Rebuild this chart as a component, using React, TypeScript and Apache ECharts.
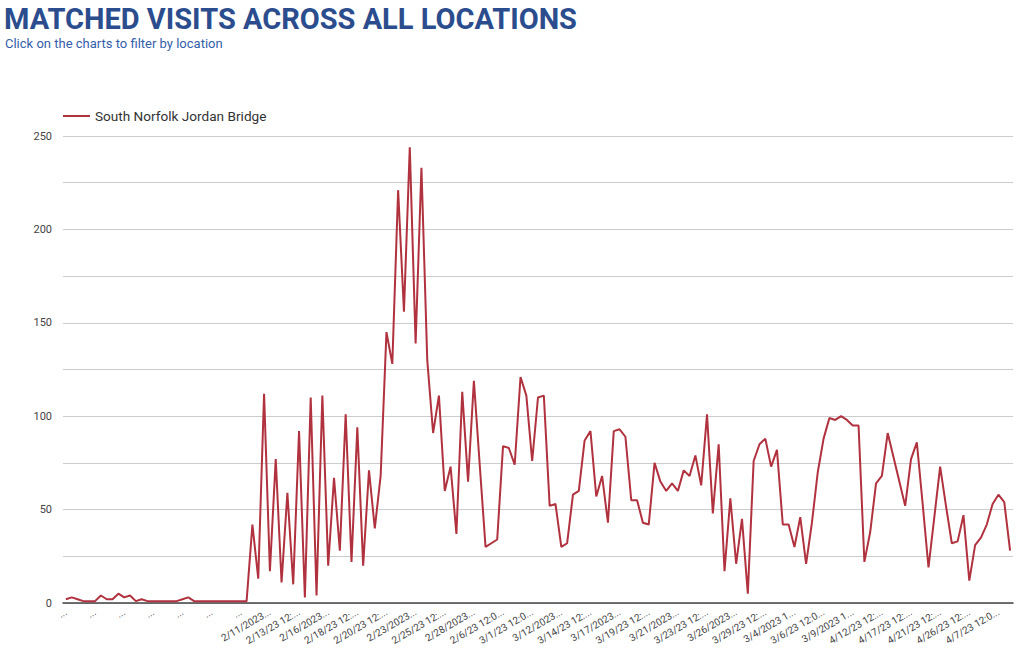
import React, { useEffect, useRef } from "react";
import * as echarts from "echarts";

const TITLE = "MATCHED VISITS ACROSS ALL LOCATIONS";
const SUBTITLE = "Click on the charts to filter by location";
const SERIES_NAME = "South Norfolk Jordan Bridge";

// one label every 5 categories (as displayed, truncated)
const tickLabels = [
  "...", "...", "...", "...", "...", "...", "...",
  "2/11/2023...", "2/13/23 12:...", "2/16/2023...", "2/18/23 12:...",
  "2/20/23 12:...", "2/23/2023...", "2/25/23 12:...", "2/28/2023...",
  "2/6/23 12:0...", "3/1/23 12:0...", "3/12/2023...", "3/14/23 12:...",
  "3/17/2023...", "3/19/23 12:...", "3/21/2023...", "3/23/23 12:...",
  "3/26/2023...", "3/29/23 12:...", "3/4/2023 1...", "3/6/23 12:0...",
  "3/9/2023 1...", "4/12/23 12:...", "4/17/23 12:...", "4/21/23 12:...",
  "4/26/23 12:...", "4/7/23 12:0...",
];

const visits = [
  2, 3, 2, 1, 1, 1, 4, 2, 2, 5,
  3, 4, 1, 2, 1, 1, 1, 1, 1, 1,
  2, 3, 1, 1, 1, 1, 1, 1, 1, 1,
  1, 1, 42, 13, 112, 17, 77, 11, 59, 10,
  92, 3, 110, 4, 111, 20, 67, 28, 101, 22,
  94, 20, 71, 40, 68, 145, 128, 221, 156, 244,
  139, 233, 130, 91, 111, 60, 73, 37, 113, 65,
  119, 74, 30, 32, 34, 84, 83, 74, 121, 111,
  76, 110, 111, 52, 53, 30, 32, 58, 60, 87,
  92, 57, 68, 43, 92, 93, 89, 55, 55, 43,
  42, 75, 65, 60, 64, 60, 71, 68, 79, 63,
  101, 48, 85, 17, 56, 21, 45, 5, 76, 85,
  88, 73, 82, 42, 42, 30, 46, 21, 43, 70,
  88, 99, 98, 100, 98, 95, 95, 22, 38, 64,
  68, 91, 78, 65, 52, 77, 86, 53, 19, 46,
  73, 52, 32, 33, 47, 12, 31, 35, 42, 53,
  58, 54, 28,
];

const categories = visits.map((_, i) => String(i));

export default function App() {
  const ref = useRef<HTMLDivElement>(null);

  useEffect(() => {
    if (!ref.current) return;
    const chart = echarts.init(ref.current, undefined, { renderer: "svg" });
    chart.setOption({
      animation: false,
      backgroundColor: "#ffffff",
      textStyle: { fontFamily: "Roboto" },
      title: [
        {
          text: TITLE,
          left: 4,
          top: 4,
          padding: 0,
          textStyle: {
            fontFamily: "Roboto",
            fontWeight: "bold",
            fontSize: 29,
            color: "#2b4d8e",
          },
        },
        {
          text: SUBTITLE,
          left: 5,
          top: 37,
          padding: 0,
          textStyle: {
            fontFamily: "Roboto",
            fontWeight: "normal",
            fontSize: 13,
            color: "#3460ab",
          },
        },
      ],
      legend: {
        show: true,
        left: 63,
        top: 109,
        padding: 0,
        icon: "rect",
        itemWidth: 27,
        itemHeight: 2,
        textStyle: { fontFamily: "Roboto", fontSize: 13.6, color: "#333" },
        data: [SERIES_NAME],
      },
      grid: { left: 63, right: 11, top: 136, bottom: 58, containLabel: false },
      xAxis: {
        type: "category",
        data: categories,
        boundaryGap: true,
        axisTick: { show: false },
        axisLine: { show: true, lineStyle: { color: "#444", width: 1.5 } },
        axisLabel: {
          interval: 4,
          rotate: 30,
          margin: 8,
          fontSize: 10,
          color: "#444",
          fontFamily: "Roboto",
          formatter: (_v: string, idx: number) => tickLabels[idx / 5] ?? "",
        },
        splitLine: { show: false },
      },
      yAxis: {
        type: "value",
        min: 0,
        max: 250,
        interval: 25,
        axisLine: { show: false },
        axisTick: { show: false },
        axisLabel: {
          margin: 11,
          fontSize: 11,
          color: "#444",
          fontFamily: "Roboto",
          formatter: (v: number) => (v % 50 === 0 ? String(v) : ""),
        },
        splitLine: { show: true, lineStyle: { color: "#cccccc", width: 1 } },
      },
      series: [
        {
          name: SERIES_NAME,
          type: "line",
          data: visits,
          showSymbol: false,
          symbol: "none",
          lineStyle: { color: "#b1323f", width: 2 },
          itemStyle: { color: "#b1323f" },
        },
      ],
    });
    return () => chart.dispose();
  }, []);

  return (
    <div
      ref={ref}
      style={{ position: "fixed", left: 0, top: 0, width: 1024, height: 661 }}
    />
  );
}
